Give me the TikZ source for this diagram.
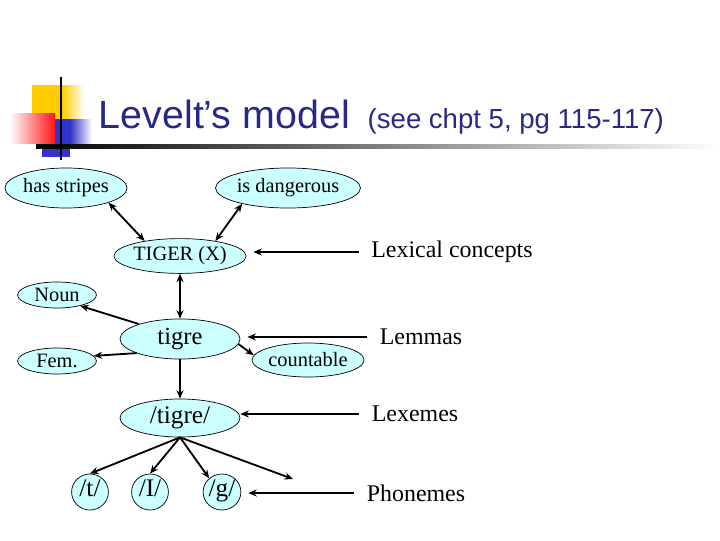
\documentclass[tikz,border=0pt]{standalone}
\usepackage{fontspec}
\setmainfont{Liberation Serif}
\newfontfamily\headfont{Liberation Sans}
\usetikzlibrary{arrows.meta}
\usetikzlibrary{positioning}
\usetikzlibrary{shapes.geometric}
\definecolor{conceptfill}{RGB}{204,255,255}
\definecolor{titleblue}{RGB}{40,40,135}
\definecolor{decoyellow}{RGB}{255,204,0}
\definecolor{decored}{RGB}{255,20,20}
\definecolor{decoblue}{RGB}{51,51,204}
\begin{document}
\begin{tikzpicture}[x=0.025cm,y=-0.025cm,->,>={Stealth[length=6pt,width=5pt]},
			line width=1.3pt]
			\tikzstyle{concept}=[ellipse,draw,line width=0.5pt,fill=conceptfill,inner sep=0pt,
			font=\fontsize{14.5}{16}\selectfont]
			\tikzstyle{lemma}=[concept,font=\fontsize{17.5}{20}\selectfont]
			\tikzstyle{form}=[concept,font=\fontsize{18}{20}\selectfont]
			\tikzstyle{phoneme}=[form,minimum width=0.92cm,minimum height=0.9cm,
			text height=0.68em,text depth=0.04em]
			\tikzstyle{level}=[inner xsep=8.5pt,inner ysep=0pt,font=\fontsize{17}{19}\selectfont]
			\useasboundingbox (0,0) rectangle (720,540);
			
			% slide decoration
			\fill[decoyellow] (32,85) rectangle (62,120);
			\shade[left color=decoyellow,right color=white] (62,85) rectangle (84,120);
			\fill[decoblue] (55,119) rectangle (70,146);
			\shade[left color=decoblue,right color=white] (70,119) rectangle (92,146);
			\fill[decoblue] (42,148) rectangle (70,157);
			\shade[left color=white,right color=decored] (10,113) rectangle (55,143);
			\shade[left color=black,middle color=gray!75,right color=white] (36,144) rectangle (720,148);
			\draw[-,line width=2.1pt] (61,77) -- (61,160);
			
			% title
			\node[anchor=base west,inner sep=0pt,text=titleblue,font=\headfont\fontsize{28}{31}\selectfont]
			(title) at (98,128) {Levelt’s model};
			\node[anchor=base west,inner sep=0pt,text=titleblue,font=\headfont\fontsize{19.6}{22}\selectfont]
			(chapter) at ([xshift=0.4cm]title.base east) {(see chpt 5, pg 115-117)};
			
			% network
			\node[concept,minimum width=3.05cm,minimum height=1cm]  (stripes) at (66,188)  {has stripes};
			\node[concept,minimum width=3cm,minimum height=1cm]     (danger)  at (288,188) {is dangerous};
			\node[concept,minimum width=3cm,minimum height=0.87cm]  (tiger)   at (180,256) {TIGER (X)};
			\node[concept,minimum width=1.97cm,minimum height=0.65cm] (noun)  at (57,295)  {Noun};
			\node[lemma,minimum width=3cm,minimum height=1cm]       (tigre)   at (180,339) {tigre};
			\node[concept,minimum width=1.97cm,minimum height=0.65cm] (fem)   at (57,361)  {Fem.};
			\node[concept,minimum width=2.25cm,minimum height=0.85cm] (count) at (308,360) {countable};
			\node[form,minimum width=3cm,minimum height=0.95cm]     (slash)   at (180,418) {/tigre/};
			\node[phoneme]         (t) at (90,492)  {/t/};
			\node[phoneme]         (I) at (150,492) {/I/};
			\node[phoneme]         (g) at (222,492) {/g/};
			\coordinate            (spare) at (293,479);
			
			% levels
			\node[level]           (lexcon)  at (452,252) {Lexical concepts};
			\node[level]           (lemmas)  at (421,337) {Lemmas};
			\node[level]           (lexemes) at (415,414) {Lexemes};
			\node[level]           (phonemes) at (416,493) {Phonemes};
			
			\path (stripes.-19) edge[<->]  (tiger.157)
			(danger.199)  edge[<->]  (tiger.23)
			(tiger)       edge[<->]  (tigre)
			(tigre.160)   edge       (noun.-25)
			(tigre.198)   edge       (fem.8)
			(tigre.-5)    edge       (count.175)
			(tigre)       edge       (slash)
			(slash.south) edge       (t.north)
			(slash.south) edge       (I.north)
			(slash.south) edge       (g.133)
			(slash.south) edge       (spare)
			;
			
			\path (lexcon.west)   edge[shorten >=5pt] (lexcon.west -| tiger.east)
			(lemmas.west)   edge[shorten >=5pt] (lemmas.west -| tigre.east)
			(lexemes.west)  edge                (lexemes.west -| slash.east)
			(phonemes.west) edge[shorten >=5pt] (phonemes.west -| g.east)
			;
\end{tikzpicture}
\end{document}
